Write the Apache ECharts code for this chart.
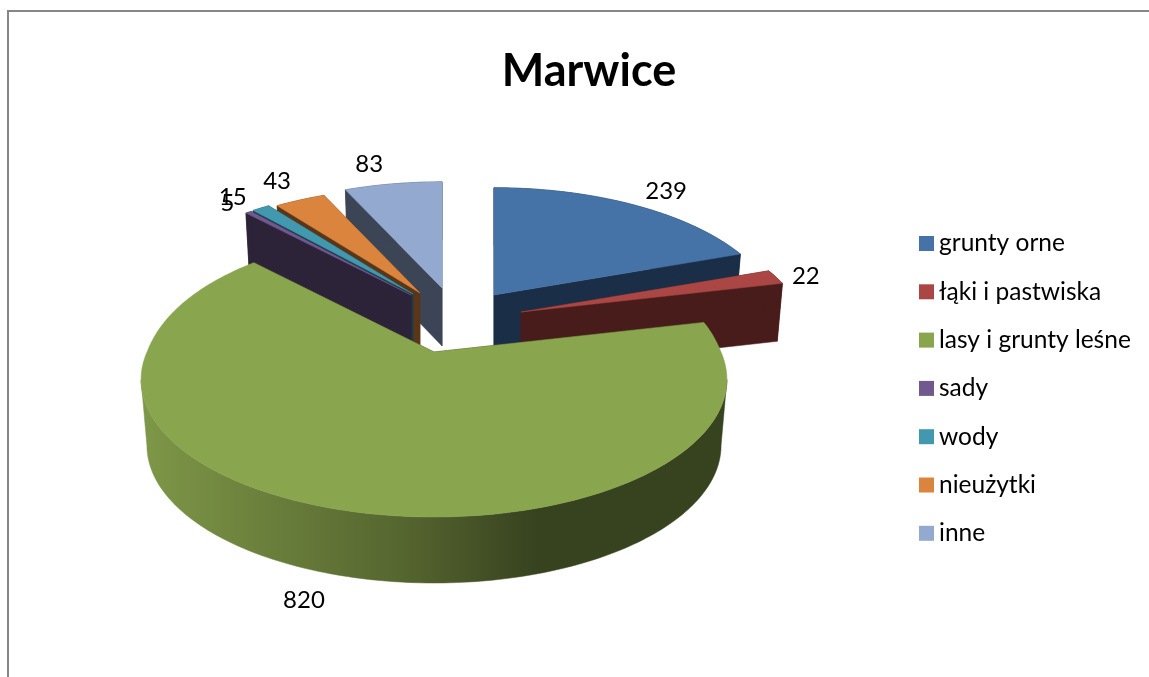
<!DOCTYPE html>
<html>
<head>
<meta charset="utf-8">
<style>
  html, body { margin: 0; padding: 0; background: #fff; overflow: hidden; }
  #chart { width: 1149px; height: 677px; }
</style>
<script src="https://cdn.jsdelivr.net/npm/echarts@6/dist/echarts.min.js"></script>
</head>
<body>
<div id="chart"></div>
<script>
const categories = ['grunty orne', 'łąki i pastwiska', 'lasy i grunty leśne', 'sady', 'wody', 'nieużytki', 'inne']
const values = [239, 22, 820, 5, 15, 43, 83]

const topColors = ['#4573A7', '#AA4643', '#89A54E', '#71588F', '#4198AF', '#DB843D', '#93A9CF']
const wallColors = ['#1B2E47', '#481C1B', '#36411F', '#2D2338', '#1A3D47', '#5A3618', '#3C4555']

// rozsuniecie kawalkow w pikselach ekranu [dx, dy]
const explode = [[60, -57], [87, -40], [0, 0], [-23, -57], [-21, -58], [-14, -59], [8, -64]]
const labelOffset = [[34, -13], [30, -1], [-27, 92], [-21, -9], [-28, -11], [-23, -19], [-24, -20]]
// promien kawalka wzgledem calego kola
const radialScale = [0.975, 0.98, 1, 0.97, 0.97, 0.96, 0.965]
// kolejnosc rysowania: od tylu do przodu
const drawOrder = [5, 6, 7, 4, 3, 2, 1]

// parametry rzutu perspektywicznego
const cx = 434
const cy = 352
const rx = 287
const ry = 132
const persp = 0.2

const total = values.reduce((sum, v) => sum + v, 0)

function sliceAngles(i) {
  const before = values.slice(0, i).reduce((sum, v) => sum + v, 0)
  return [before / total * 360, (before + values[i]) / total * 360]
}

function project(deg, i) {
  const t = deg * Math.PI / 180
  const u = Math.sin(t)
  const v = Math.cos(t)
  const s = 1 / (1 + persp * v)
  // duzy kawalek siega z tylu troche dalej niz wynika z rzutu
  const r = radialScale[i] * (i === 2 ? 1 + 0.09 * Math.pow(Math.max(v, 0), 1.4) : 1)
  return [cx + rx * u * s * r + explode[i][0], cy - ry * v * s * r + explode[i][1], v]
}

// dolna krawedz bryly
function drop(p, i) {
  const ramp = Math.min(1, Math.max(0, (0.2 - p[2]) / 0.4))
  const depth = 58 + 8 * ramp
  const ax = cx + explode[i][0]
  return [ax + (p[0] - ax) * 0.98, p[1] + depth]
}

function arcPoints(from, to, i) {
  const pts = []
  const steps = Math.max(2, Math.ceil(to - from))
  for (let k = 0; k <= steps; k++) pts.push(project(from + (to - from) * k / steps, i))
  return pts
}

const greenWall = new echarts.graphic.LinearGradient(147, 0, 721, 0, [
  { offset: 0, color: '#7D9647' },
  { offset: 0.45, color: '#55652F' },
  { offset: 0.68, color: '#37421F' },
  { offset: 1, color: '#37421F' }
], true)

function poly(points, fill) {
  return {
    type: 'polygon',
    shape: { points: points.map(p => [p[0], p[1]]) },
    style: { fill, stroke: fill, lineWidth: 0.5 }
  }
}

// widoczny bok: luk miedzy skrajnymi punktami w poziomie
function sideWall(arc, i, fill) {
  const xs = arc.map(p => p[0])
  const a = xs.indexOf(Math.max(...xs))
  const b = xs.indexOf(Math.min(...xs))
  const front = arc.slice(Math.min(a, b), Math.max(a, b) + 1)
  return poly([...front, ...front.map(p => drop(p, i)).reverse()], fill)
}

function makeRenderItem(i) {
  return (params, api) => {
    const [from, to] = sliceAngles(i)
    const apex = [cx + explode[i][0], cy + explode[i][1], 0]
    const apexLow = [apex[0], apex[1] + 58]
    const arc = arcPoints(from, to, i)
    const first = arc[0]
    const last = arc[arc.length - 1]
    const wall = wallColors[i]

    const children = [
      poly([apex, first, drop(first, i), apexLow], wall),
      poly([apex, last, drop(last, i), apexLow], wall),
      sideWall(arc, i, i === 2 ? greenWall : wall),
      poly([apex, ...arc], topColors[i])
    ]

    const mid = project((from + to) / 2, i)
    children.push({
      type: 'text',
      x: mid[0] + labelOffset[i][0],
      y: mid[1] + labelOffset[i][1],
      style: {
        text: String(api.value(0)),
        fill: '#000',
        font: '24px Lato',
        align: 'center',
        verticalAlign: 'middle'
      }
    })
    return { type: 'group', children }
  }
}

const chart = echarts.init(document.getElementById('chart'))

chart.setOption({
  animation: false,
  backgroundColor: '#fff',
  title: {
    text: 'Marwice',
    left: 584,
    top: 44,
    textAlign: 'center',
    textStyle: { color: '#000', fontFamily: 'Lato', fontWeight: 'bold', fontSize: 45 }
  },
  legend: {
    orient: 'vertical',
    left: 914,
    top: 226,
    icon: 'rect',
    itemWidth: 15,
    itemHeight: 15,
    itemGap: 23.3,
    itemTextGap: 7,
    selectedMode: false,
    textStyle: { color: '#000', fontFamily: 'Lato', fontSize: 24.5, padding: 0 },
    data: categories
  },
  graphic: [{
    type: 'rect',
    silent: true,
    z: -1,
    shape: { x: 8, y: 11, width: 2000, height: 2000 },
    style: { fill: 'none', stroke: '#868686', lineWidth: 2 }
  }],
  series: categories.map((name, i) => ({
    type: 'custom',
    name,
    coordinateSystem: 'none',
    z: drawOrder[i],
    silent: true,
    itemStyle: { color: topColors[i] },
    data: [[values[i]]],
    renderItem: makeRenderItem(i)
  }))
})
</script>
</body>
</html>
